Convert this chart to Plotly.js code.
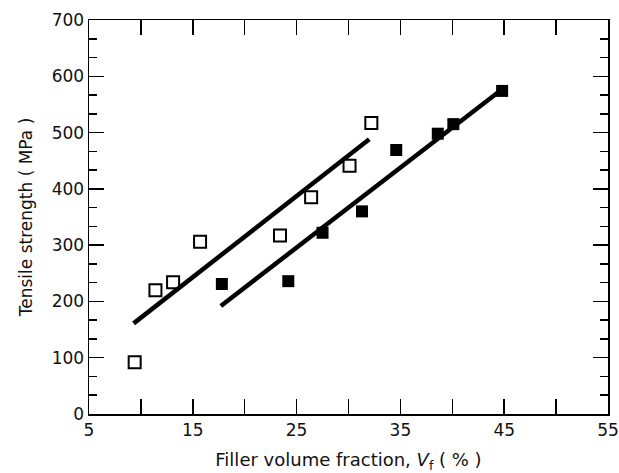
<!DOCTYPE html>
<html>
<head>
<meta charset="utf-8">
<script src="https://cdn.plot.ly/plotly-3.0.1.min.js"></script>
<style>html,body{margin:0;padding:0;background:#fff;}#chart{width:619px;height:473px;}</style>
</head>
<body>
<div id="chart"></div>
<script>
// Open squares
const openX = [9.4, 11.4, 13.1, 15.7, 23.4, 26.4, 30.1, 32.2];
const openY = [92, 220, 234, 306, 317, 385, 441, 517];
// Filled squares
const filledX = [17.8, 24.2, 27.5, 31.3, 34.6, 38.6, 40.1, 44.8];
const filledY = [231, 236, 322, 360, 469, 498, 515, 574];
// Fit lines (end points)
const openFitX = [9.3, 32.0];
const openFitY = [161, 488];
const filledFitX = [17.7, 44.8];
const filledFitY = [192, 577];
const xTickVals = [5, 15, 25, 35, 45, 55];
const yTickVals = [0, 100, 200, 300, 400, 500, 600, 700];

const font = 'DejaVu Sans, Liberation Sans, sans-serif';
const traces = [
  {x: openFitX, y: openFitY, mode: 'lines', line: {color: '#000', width: 4.5}, hoverinfo: 'skip'},
  {x: filledFitX, y: filledFitY, mode: 'lines', line: {color: '#000', width: 4.5}, hoverinfo: 'skip'},
  {x: openX, y: openY, mode: 'markers', marker: {symbol: 'square-open', size: 12, color: '#000', line: {width: 2, color: '#000'}}},
  {x: filledX, y: filledY, mode: 'markers', marker: {symbol: 'square', size: 12, color: '#000'}}
];
const layout = {
  width: 619, height: 473,
  margin: {l: 89, r: 11, t: 20, b: 59},
  showlegend: false,
  paper_bgcolor: '#fff', plot_bgcolor: '#fff',
  font: {family: font, color: '#111', size: 17},
  xaxis: {
    range: [5, 55], tickvals: xTickVals, ticks: 'inside', ticklen: 15, tickwidth: 1.5, tickcolor: '#000',
    minor: {dtick: 5, tick0: 5, ticks: 'inside', ticklen: 15, tickwidth: 1.5, tickcolor: '#000'},
    showgrid: false, zeroline: false, showline: true, linecolor: '#000', linewidth: 1.5, mirror: 'ticks',
    tickfont: {size: 17, family: font},
    title: {text: 'Filler volume fraction, <i>V</i><sub>f</sub> ( % )', font: {size: 18, family: font}, standoff: 14}
  },
  yaxis: {
    range: [0, 700], tickvals: yTickVals, ticks: 'inside', ticklen: 15, tickwidth: 1.5, tickcolor: '#000',
    minor: {dtick: 100/3, tick0: 0, ticks: 'inside', ticklen: 8, tickwidth: 1.5, tickcolor: '#000'},
    showgrid: false, zeroline: false, showline: true, linecolor: '#000', linewidth: 1.5, mirror: 'ticks',
    tickfont: {size: 17, family: font},
    title: {text: 'Tensile strength ( MPa )', font: {size: 17, family: font}, standoff: 14}
  }
};
Plotly.newPlot('chart', traces, layout, {staticPlot: true});
</script>
</body>
</html>
